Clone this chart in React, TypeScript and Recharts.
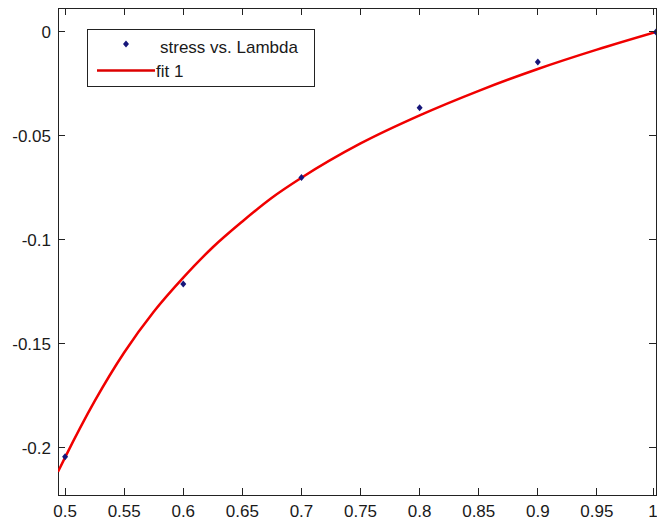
import React from 'react';
import { ComposedChart, Line, Scatter, XAxis, YAxis, Legend, ReferenceArea } from 'recharts';

// measured points (lambda, stress)
const lambdaPts = [0.5, 0.6, 0.7, 0.8, 0.9, 1.0];
const stressPts = [-0.2042, -0.1212, -0.07, -0.0364, -0.0144, 0];

// fitted curve
const fitLambda = [0.494, 0.5, 0.525, 0.55, 0.575, 0.6, 0.625, 0.65, 0.675, 0.7, 0.75, 0.8, 0.85, 0.9, 0.95, 1.0];
const fitStress = [
  -0.2114, -0.2045, -0.1775, -0.1541, -0.1345, -0.1181, -0.1035, -0.0911, -0.0797, -0.0701,
  -0.0536, -0.0401, -0.0283, -0.0178, -0.0085, 0,
];

const xTicks = [0.5, 0.55, 0.6, 0.65, 0.7, 0.75, 0.8, 0.85, 0.9, 0.95, 1];
const yTicks = [-0.2, -0.15, -0.1, -0.05, 0];
const xDomain = [0.494, 1];
const yDomain = [-0.2226, 0.0115];

const pointData = lambdaPts.map((x, i) => ({ x, y: stressPts[i] }));
const fitData = fitLambda.map((x, i) => ({ x, y: fitStress[i] }));

const AXIS = '#222';
const TEXT = '#1a1a1a';
const FONT = '"Liberation Sans", Arial, sans-serif';
const TICK_LEN = 7;
// plot box edges (layout, from margins and axis sizes)
const PLOT_TOP = 8;
const PLOT_RIGHT = 656;

// inward MATLAB-style ticks on both opposite sides, drawn with the labels
const BottomTick = (props: any) => {
  const { x, y, payload } = props;
  const base = y - 10;
  return (
    <g>
      <line x1={x} x2={x} y1={base} y2={base - TICK_LEN} stroke={AXIS} strokeWidth={1} shapeRendering="crispEdges" />
      <line x1={x} x2={x} y1={PLOT_TOP} y2={PLOT_TOP + TICK_LEN} stroke={AXIS} strokeWidth={1} shapeRendering="crispEdges" />
      <text x={x} y={y} dy="0.71em" textAnchor="middle" fontSize={17} fontFamily={FONT} fill={TEXT}>
        {String(payload.value)}
      </text>
    </g>
  );
};

const LeftTick = (props: any) => {
  const { x, y, payload } = props;
  const base = x + 7;
  return (
    <g>
      <line x1={base} x2={base + TICK_LEN} y1={y} y2={y} stroke={AXIS} strokeWidth={1} shapeRendering="crispEdges" />
      <line x1={PLOT_RIGHT} x2={PLOT_RIGHT - TICK_LEN} y1={y} y2={y} stroke={AXIS} strokeWidth={1} shapeRendering="crispEdges" />
      <text x={x} y={y} dy="0.355em" textAnchor="end" fontSize={17} fontFamily={FONT} fill={TEXT}>
        {String(payload.value)}
      </text>
    </g>
  );
};

const Diamond = (props: any) => {
  const { cx, cy } = props;
  if (cx == null || cy == null) return null;
  return <path d={`M${cx},${cy - 3.5}L${cx + 3},${cy}L${cx},${cy + 3.5}L${cx - 3},${cy}Z`} fill="#16167a" />;
};

const LegendBox = () => (
  <svg width={228} height={58} style={{ display: 'block' }}>
    <rect x={0.5} y={0.5} width={227} height={57} fill="#fff" stroke={AXIS} />
    <path d="M39,11.5L42,15L39,18.5L36,15Z" fill="#16167a" />
    <text x={73} y={24} fontSize={17} fontFamily={FONT} fill={TEXT}>stress vs. Lambda</text>
    <line x1={10} x2={68} y1={41.5} y2={41.5} stroke="#dd0000" strokeWidth={2.5} />
    <text x={69} y={48} fontSize={17} fontFamily={FONT} fill={TEXT}>fit 1</text>
  </svg>
);

const App: React.FC = () => {
  return (
    <div style={{ position: 'absolute', left: 0, top: 0, width: 657, height: 522, overflow: 'hidden' }}>
      <ComposedChart width={657} height={522} margin={{ top: 8, right: 1, left: 0, bottom: 0 }}>
        <XAxis
          type="number"
          dataKey="x"
          domain={xDomain}
          ticks={xTicks}
          allowDataOverflow
          height={27}
          tickSize={0}
          tickMargin={10}
          tickLine={false}
          axisLine={false}
          tick={<BottomTick />}
        />
        <YAxis
          type="number"
          dataKey="y"
          domain={yDomain}
          ticks={yTicks}
          allowDataOverflow
          width={58}
          tickSize={0}
          tickMargin={7}
          tickLine={false}
          axisLine={false}
          tick={<LeftTick />}
        />
        <ReferenceArea
          x1={xDomain[0]}
          x2={xDomain[1]}
          y1={yDomain[0]}
          y2={yDomain[1]}
          fill="none"
          fillOpacity={0}
          stroke={AXIS}
          strokeWidth={1}
          shapeRendering="crispEdges"
          ifOverflow="visible"
        />
        <Legend
          layout="vertical"
          align="center"
          verticalAlign="middle"
          content={() => <LegendBox />}
          wrapperStyle={{ left: 87, top: 29, width: 228, height: 58 }}
        />
        <Scatter
          name="stress vs. Lambda"
          data={pointData}
          dataKey="y"
          shape={<Diamond />}
          isAnimationActive={false}
        />
        <Line
          name="fit 1"
          data={fitData}
          dataKey="y"
          type="monotone"
          stroke="#f00000"
          strokeWidth={2.5}
          dot={false}
          activeDot={false}
          isAnimationActive={false}
        />
      </ComposedChart>
    </div>
  );
};

export default App;
